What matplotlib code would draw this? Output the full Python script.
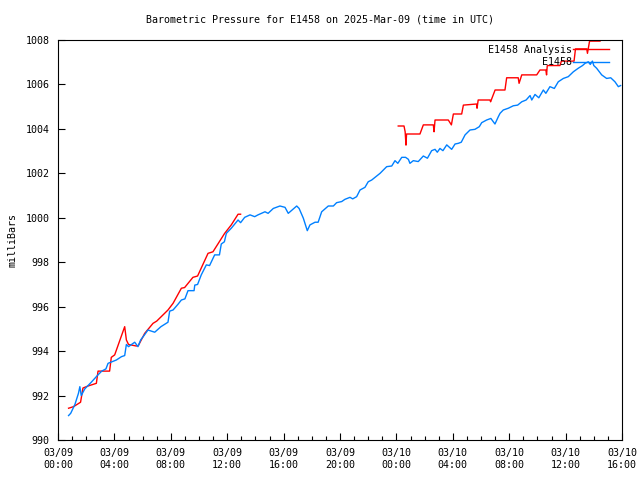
"""
Barometric pressure for E1458: station obs vs analysis (gnuplot-style look)
"""

import numpy as np
import pandas as pd
import matplotlib
matplotlib.use("Agg")
import matplotlib.pyplot as plt
import matplotlib.dates as mdates
from matplotlib.ticker import MultipleLocator

# --- Data (hours after 2025-03-09 00:00 UTC, pressure in mb) ---
START = pd.Timestamp("2025-03-09 00:00")

obs_hours = [0.75, 0.9, 1.2, 1.45, 1.55, 1.65, 1.9, 2.36, 2.79, 3.1, 3.4, 3.55, 4.14, 4.5, 4.73,
             4.85, 5.0, 5.44, 5.67, 5.86, 6.1, 6.38, 6.86, 7.3, 7.8, 7.92, 8.16, 8.5, 8.75, 9.0,
             9.22, 9.65, 9.7, 9.9, 10.16, 10.52, 10.75, 11.11, 11.45, 11.58, 11.8, 11.94, 12.29,
             12.77, 12.95, 13.24, 13.62, 13.95, 14.18, 14.68, 14.9, 15.27, 15.74, 16.1, 16.33,
             16.93, 17.1, 17.4, 17.68, 17.87, 18.23, 18.45, 18.7, 19.17, 19.53, 19.76, 20.12,
             20.35, 20.71, 20.9, 21.18, 21.42, 21.77, 22.0, 22.25, 22.84, 23.31, 23.67, 23.9,
             24.1, 24.38, 24.65, 24.85, 24.96, 25.2, 25.55, 25.91, 26.2, 26.5, 26.74, 26.9,
             27.09, 27.3, 27.57, 27.92, 28.16, 28.39, 28.6, 28.87, 29.22, 29.57, 29.88, 30.05,
             30.4, 30.7, 30.99, 31.23, 31.35, 31.58, 31.94, 32.29, 32.6, 32.89, 33.2, 33.48,
             33.6, 33.83, 34.1, 34.42, 34.6, 34.89, 35.2, 35.48, 35.84, 36.19, 36.55, 36.9,
             37.2, 37.38, 37.61, 37.75, 37.9, 38.0, 38.2, 38.56, 38.91, 39.2, 39.5, 39.74, 39.9]
obs_mb = [991.1, 991.2, 991.6, 992.1, 992.4, 992.0, 992.3, 992.6, 992.9, 993.1, 993.2, 993.45,
          993.6, 993.75, 993.8, 994.3, 994.2, 994.4, 994.2, 994.5, 994.7, 994.95, 994.85, 995.1,
          995.3, 995.8, 995.85, 996.1, 996.3, 996.35, 996.72, 996.72, 996.97, 997.0, 997.43,
          997.88, 997.85, 998.33, 998.33, 998.82, 998.92, 999.3, 999.53, 999.9, 999.78, 1000.02,
          1000.13, 1000.05, 1000.13, 1000.27, 1000.2, 1000.42, 1000.53, 1000.47, 1000.2, 1000.53,
          1000.42, 999.98, 999.42, 999.68, 999.8, 999.8, 1000.27, 1000.53, 1000.53, 1000.68,
          1000.73, 1000.83, 1000.92, 1000.85, 1000.95, 1001.25, 1001.37, 1001.62, 1001.7, 1002.0,
          1002.3, 1002.33, 1002.57, 1002.45, 1002.72, 1002.72, 1002.63, 1002.45, 1002.57, 1002.53,
          1002.78, 1002.68, 1003.02, 1003.08, 1002.95, 1003.12, 1003.02, 1003.28, 1003.08,
          1003.32, 1003.35, 1003.4, 1003.73, 1003.95, 1003.98, 1004.1, 1004.28, 1004.4, 1004.47,
          1004.22, 1004.55, 1004.7, 1004.85, 1004.93, 1005.04, 1005.07, 1005.22, 1005.3, 1005.5,
          1005.3, 1005.55, 1005.4, 1005.75, 1005.6, 1005.9, 1005.82, 1006.12, 1006.27, 1006.35,
          1006.57, 1006.73, 1006.85, 1006.95, 1007.02, 1006.9, 1007.05, 1006.85, 1006.73,
          1006.43, 1006.27, 1006.3, 1006.12, 1005.9, 1005.95]

# analysis comes in two runs with a gap in between
ana1_hours = [0.75, 1.1, 1.6, 1.77, 2.13, 2.72, 2.84, 3.66, 3.78, 4.02, 4.73, 4.85, 5.0, 5.55,
              5.7, 6.15, 6.74, 7.0, 7.8, 8.16, 8.75, 8.98, 9.57, 9.9, 10.64, 10.99, 11.82,
              12.29, 12.77, 12.95]
ana1_mb = [991.43, 991.5, 991.7, 992.34, 992.43, 992.55, 993.1, 993.1, 993.72, 993.83, 995.1,
           994.5, 994.3, 994.23, 994.25, 994.8, 995.25, 995.35, 995.85, 996.15, 996.83, 996.86,
           997.32, 997.38, 998.4, 998.47, 999.3, 999.68, 1000.16, 1000.16]

ana2_hours = [24.13, 24.54, 24.62, 24.68, 24.72, 25.67, 25.91, 26.62, 26.67, 26.74, 27.68,
              27.9, 28.04, 28.63, 28.75, 29.69, 29.72, 29.8, 30.64, 30.68, 31.0, 31.7, 31.82,
              32.64, 32.7, 32.89, 33.95, 34.18, 34.6, 34.65, 34.7, 35.6, 35.7, 36.6, 36.7,
              37.5, 37.55, 37.7, 38.44]
ana2_mb = [1004.13, 1004.13, 1003.87, 1003.27, 1003.77, 1003.77, 1004.18, 1004.18, 1003.87,
           1004.4, 1004.4, 1004.18, 1004.67, 1004.67, 1005.07, 1005.12, 1004.93, 1005.3,
           1005.3, 1005.22, 1005.75, 1005.75, 1006.3, 1006.3, 1006.05, 1006.43, 1006.43,
           1006.65, 1006.65, 1006.43, 1006.85, 1006.85, 1007.05, 1007.05, 1007.6, 1007.6,
           1007.4, 1007.95, 1007.95]


def to_time(hours):
    return START + pd.to_timedelta(hours, unit="h")


FONT = "DejaVu Sans Mono"
FS = 7.2

fig = plt.figure(figsize=(6.4, 4.8), dpi=100)
ax = fig.add_axes([58 / 640, 40 / 480, 564 / 640, 400 / 480])

ax.plot(to_time(ana1_hours), ana1_mb, color="#ff0000", lw=1.0, label="E1458 Analysis")
ax.plot(to_time(ana2_hours), ana2_mb, color="#ff0000", lw=1.0)
ax.plot(to_time(obs_hours), obs_mb, color="#0080ff", lw=1.0, label="E1458")

ax.set_xlim(to_time(0), to_time(40))
ax.set_ylim(990, 1008)
ax.yaxis.set_major_locator(MultipleLocator(2))
ax.xaxis.set_major_locator(mdates.HourLocator(byhour=range(0, 24, 4)))
ax.xaxis.set_minor_locator(mdates.HourLocator())
ax.xaxis.set_major_formatter(mdates.DateFormatter("%m/%d\n%H:%M"))

ax.tick_params(axis="both", which="both", direction="in", top=False, right=False,
               labelsize=FS, width=0.8)
ax.tick_params(axis="x", which="major", length=5, pad=6)
ax.tick_params(axis="x", which="minor", length=3)
ax.tick_params(axis="y", which="major", length=5, pad=6)
for lab in ax.get_xticklabels() + ax.get_yticklabels():
    lab.set_family(FONT)
for s in ax.spines.values():
    s.set_linewidth(0.8)

ax.set_ylabel("milliBars", fontsize=FS, family=FONT, labelpad=6)
fig.text(0.5, 1 - 19 / 480, "Barometric Pressure for E1458 on 2025-Mar-09 (time in UTC)",
         ha="center", va="center", fontsize=FS, family=FONT)

leg = ax.legend(loc="upper right", frameon=False, markerfirst=False, handlelength=3.6,
                handletextpad=0.1, borderaxespad=0.1, labelspacing=0.25,
                prop={"family": FONT, "size": FS}, bbox_to_anchor=(0.985, 1.0))

fig.savefig("out.png", dpi=100)
